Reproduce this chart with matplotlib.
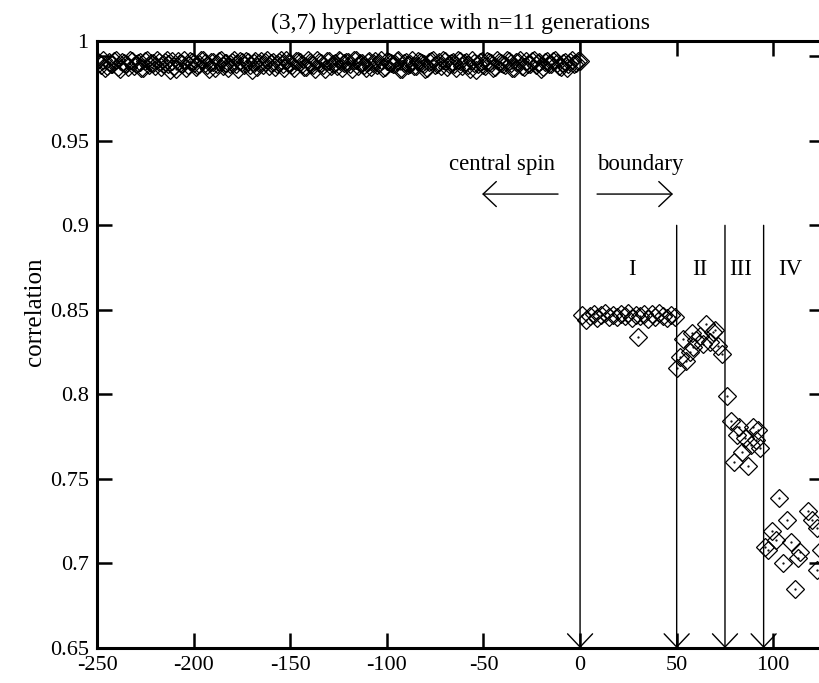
import matplotlib.pyplot as plt

plt.rcParams['font.family'] = ['Liberation Serif', 'DejaVu Serif']

# central spin side: even spins x = -250 ... 0
top_x = list(range(-250, 1, 2))
top_y = [0.9972, 0.9951, 0.9930, 0.9968, 0.9957, 0.9979, 0.9926, 0.9963, 0.9935, 0.9971,
         0.9954, 0.9966, 0.9928, 0.9975, 0.9959, 0.9942, 0.9969, 0.9953, 0.9977, 0.9921,
         0.9944, 0.9970, 0.9956, 0.9933, 0.9973, 0.9962, 0.9949, 0.9976, 0.9958, 0.9924,
         0.9967, 0.9952, 0.9980, 0.9960, 0.9931, 0.9969, 0.9955, 0.9974, 0.9947, 0.9964,
         0.9919, 0.9971, 0.9958, 0.9950, 0.9978, 0.9962, 0.9937, 0.9966, 0.9953, 0.9975,
         0.9960, 0.9929, 0.9972, 0.9957, 0.9939, 0.9968, 0.9951, 0.9977, 0.9963, 0.9925,
         0.9970, 0.9955, 0.9942, 0.9974, 0.9959, 0.9966, 0.9922, 0.9979, 0.9961, 0.9950,
         0.9967, 0.9936, 0.9973, 0.9958, 0.9930, 0.9971, 0.9962, 0.9952, 0.9976, 0.9927,
         0.9969, 0.9956, 0.9940, 0.9974, 0.9960, 0.9923, 0.9965, 0.9978, 0.9954, 0.9943,
         0.9970, 0.9957, 0.9966, 0.9932, 0.9973, 0.9961, 0.9948, 0.9977, 0.9920, 0.9964,
         0.9946, 0.9972, 0.9959, 0.9934, 0.9968, 0.9953, 0.9975, 0.9962, 0.9928, 0.9967,
         0.9944, 0.9971, 0.9957, 0.9979, 0.9960, 0.9926, 0.9965, 0.9952, 0.9974, 0.9958,
         0.9938, 0.9969, 0.9955, 0.9976, 0.9963, 0.9970]

# central spin side: odd spins x = -249 ... -1
odd_x = list(range(-249, 0, 2))
odd_y = [0.9961, 0.9978, 0.9945, 0.9956, 0.9973, 0.9934, 0.9967, 0.9952, 0.9976, 0.9940,
         0.9963, 0.9929, 0.9970, 0.9948, 0.9958, 0.9977, 0.9936, 0.9965, 0.9954, 0.9972,
         0.9925, 0.9961, 0.9975, 0.9946, 0.9968, 0.9939, 0.9957, 0.9979, 0.9950, 0.9966,
         0.9931, 0.9973, 0.9943, 0.9962, 0.9955, 0.9977, 0.9927, 0.9964, 0.9971, 0.9949,
         0.9958, 0.9935, 0.9974, 0.9965, 0.9941, 0.9969, 0.9952, 0.9978, 0.9930, 0.9960,
         0.9947, 0.9973, 0.9964, 0.9938, 0.9976, 0.9956, 0.9923, 0.9968, 0.9951, 0.9972,
         0.9944, 0.9962, 0.9979, 0.9933, 0.9967, 0.9955, 0.9975, 0.9940, 0.9959, 0.9929,
         0.9971, 0.9963, 0.9948, 0.9977, 0.9936, 0.9966, 0.9954, 0.9973, 0.9924, 0.9961,
         0.9950, 0.9978, 0.9943, 0.9968, 0.9957, 0.9932, 0.9974, 0.9946, 0.9965, 0.9976,
         0.9937, 0.9960, 0.9952, 0.9979, 0.9941, 0.9969, 0.9926, 0.9963, 0.9955, 0.9972,
         0.9945, 0.9967, 0.9933, 0.9975, 0.9958, 0.9949, 0.9970, 0.9929, 0.9964, 0.9977,
         0.9939, 0.9956, 0.9973, 0.9947, 0.9966, 0.9935, 0.9971, 0.9953, 0.9978, 0.9942,
         0.9962, 0.9931, 0.9968, 0.9957, 0.9974]

# boundary regions I - IV
reg1_x = [1, 3, 5, 7, 9, 11, 13, 15, 17, 19, 21, 23, 25, 27, 29, 30, 31, 33, 35, 37, 39, 41, 43, 45, 47, 49]
reg1_y = [0.8470, 0.8442, 0.8463, 0.8475, 0.8451, 0.8468, 0.8479, 0.8456, 0.8472, 0.8460,
          0.8477, 0.8465, 0.8481, 0.8453, 0.8470, 0.8340, 0.8462, 0.8478, 0.8449, 0.8473,
          0.8458, 0.8480, 0.8466, 0.8452, 0.8471, 0.8459]
reg2_x = [50, 51.7, 53.1, 55, 56.9, 57.8, 58.5, 60, 62.1, 63.5, 65.2, 67.3, 68.8, 70, 71.4, 73.3]
reg2_y = [0.8158, 0.8220, 0.8326, 0.8200, 0.8249, 0.8366, 0.8279, 0.8320, 0.8345, 0.8300,
          0.8415, 0.8308, 0.8367, 0.8380, 0.8284, 0.8237]
reg3_x = [76, 78, 79.5, 81, 82.5, 84, 85.4, 87, 88.5, 89.7, 91, 92.1, 93.2]
reg3_y = [0.7990, 0.7840, 0.7600, 0.7760, 0.7810, 0.7660, 0.7745, 0.7575, 0.7700, 0.7810,
          0.7730, 0.7790, 0.7686]
reg4_x = [95.5, 97.4, 99.2, 101.4, 103.1, 105.2, 106.9, 109, 111.2, 113, 113.8, 118.1, 119.9, 122.5, 122.6, 124.5]
reg4_y = [0.7100, 0.7080, 0.7190, 0.7140, 0.7390, 0.7000, 0.7260, 0.7130, 0.6850, 0.7030,
          0.7070, 0.7310, 0.7260, 0.7210, 0.6960, 0.7080]

boundaries = [0, 50, 75, 95]
region_labels = ['I', 'II', 'III', 'IV']
region_label_x = [27, 62, 83.3, 108.6]

xs = top_x + odd_x + reg1_x + reg2_x + reg3_x + reg4_x
ys = top_y + odd_y + reg1_y + reg2_y + reg3_y + reg4_y

fig = plt.figure(figsize=(8.2, 6.83), dpi=100)
ax = fig.add_axes([0.1183, 0.0512, 0.886, 0.8887])

ax.plot(xs, ys, linestyle='none', marker='D', markersize=8.8, markerfacecolor='none',
        markeredgecolor='black', markeredgewidth=0.9)
ax.plot(xs, ys, linestyle='none', marker='.', markersize=1.2, color='black')

ax.set_xlim(-250, 126)
ax.set_ylim(0.65, 1.009)

head = '->,head_length=0.95,head_width=0.9'

# dividing lines with arrow heads at the bottom
top_val = ax.get_ylim()[1]
for i, b in enumerate(boundaries):
    start = top_val if i == 0 else 0.9
    ax.annotate('', xy=(b, 0.65), xytext=(b, start),
                arrowprops=dict(arrowstyle=head, mutation_scale=10, lw=1.0,
                                color='black', shrinkA=0, shrinkB=0))

for lab, lx in zip(region_labels, region_label_x):
    ax.text(lx, 0.874, lab, ha='center', va='center', fontsize=16.5)

ax.text(-40.5, 0.9360, 'central spin', ha='center', va='center', fontsize=16.5)
ax.text(31, 0.9360, 'boundary', ha='center', va='center', fontsize=16.5)
ax.annotate('', xy=(-50.7, 0.9185), xytext=(-11.4, 0.9185),
            arrowprops=dict(arrowstyle=head, mutation_scale=10, lw=1.0,
                            color='black', shrinkA=0, shrinkB=0))
ax.annotate('', xy=(48.1, 0.9185), xytext=(8.8, 0.9185),
            arrowprops=dict(arrowstyle=head, mutation_scale=10, lw=1.0,
                            color='black', shrinkA=0, shrinkB=0))

xticks = [-250, -200, -150, -100, -50, 0, 50, 100]
yticks = [0.65, 0.7, 0.75, 0.8, 0.85, 0.9, 0.95, 1.0]
ytick_labels = ['0.65', '0.7', '0.75', '0.8', '0.85', '0.9', '0.95', '']
ax.set_xticks(xticks)
ax.set_xticklabels([str(t) for t in xticks])
ax.set_yticks(yticks)
ax.set_yticklabels(ytick_labels)
ax.text(-0.012, 0.9967, '1', transform=ax.transAxes, ha='right', va='center', fontsize=16)

ax.tick_params(direction='in', length=11, width=1.8, labelsize=16, top=True, right=True, pad=6)
for sp in ax.spines.values():
    sp.set_linewidth(2.2)

fig.text(35 / 820, 1 - 312 / 683, 'correlation', rotation=90, ha='center', va='center', fontsize=18)
ax.set_title('(3,7) hyperlattice with n=11 generations', fontsize=17, pad=9)

fig.savefig('out.png', dpi=100)
